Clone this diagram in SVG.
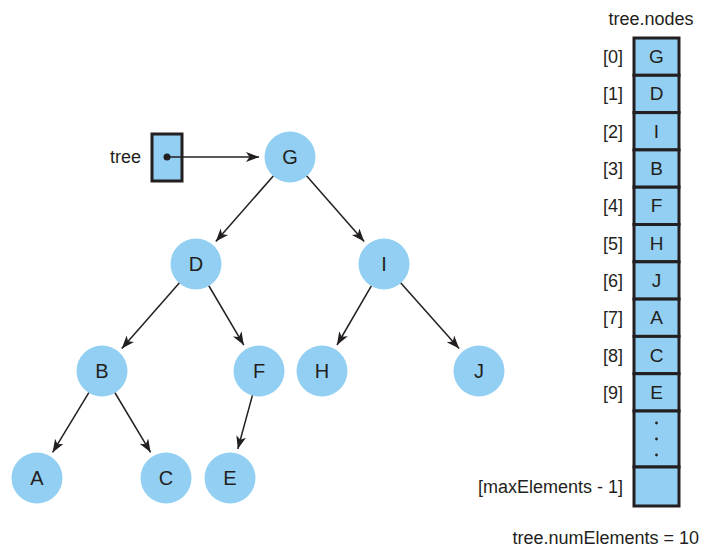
<svg xmlns="http://www.w3.org/2000/svg" width="702" height="549" viewBox="0 0 702 549">
<style>
text{font-family:"Liberation Sans",Arial,sans-serif;font-size:18px;fill:#231F20}
.node circle{fill:#92CFF2;stroke:none}
.node text{text-anchor:middle;font-size:20px}
.edge{stroke:#231F20;stroke-width:1.5;fill:none;marker-end:url(#ah)}
.cell{fill:#92CFF2;stroke:#231F20;stroke-width:3}
.idx{text-anchor:end}
.val{text-anchor:middle}
.cv{text-anchor:middle;font-size:19px}
</style>
<defs>
<marker id="ah" markerUnits="userSpaceOnUse" markerWidth="14" markerHeight="12" refX="13" refY="5" orient="auto">
<path d="M0,0 L13,5 L0,10 L3.5,5 z" fill="#231F20"/>
</marker>
</defs>
<rect width="702" height="549" fill="#fff"/>

<g id="tree-pointer">
<text x="141" y="163" class="idx">tree</text>
<rect x="152" y="134" width="30" height="47" class="cell"/>
<circle cx="167" cy="157" r="3.5" fill="#231F20"/>
</g>

<g id="connectors">
<line class="edge" x1="167" y1="157" x2="259" y2="157"/>
<line class="edge" x1="273.5" y1="175.8" x2="215.8" y2="241.5"/>
<line class="edge" x1="306.5" y1="175.8" x2="364.2" y2="241.5"/>
<line class="edge" x1="179.5" y1="282.8" x2="121.8" y2="348.5"/>
<line class="edge" x1="208.7" y1="285.5" x2="243.8" y2="345.1"/>
<line class="edge" x1="371.5" y1="285.6" x2="337" y2="345"/>
<line class="edge" x1="400.6" y1="282.7" x2="459.1" y2="348.6"/>
<line class="edge" x1="89" y1="392.4" x2="52.6" y2="452.4"/>
<line class="edge" x1="114.8" y1="392.5" x2="150.6" y2="452.3"/>
<line class="edge" x1="252.5" y1="395.1" x2="237.8" y2="449"/>
</g>

<g id="node-G" class="node"><circle cx="290" cy="157" r="25.5"/><text x="290" y="164">G</text></g>
<g id="node-D" class="node"><circle cx="196" cy="264" r="25.5"/><text x="196" y="271">D</text></g>
<g id="node-I" class="node"><circle cx="384" cy="264" r="25.5"/><text x="384" y="271">I</text></g>
<g id="node-B" class="node"><circle cx="102" cy="371" r="25.5"/><text x="102" y="378">B</text></g>
<g id="node-F" class="node"><circle cx="259" cy="371" r="25.5"/><text x="259" y="378">F</text></g>
<g id="node-H" class="node"><circle cx="322" cy="371" r="25.5"/><text x="322" y="378">H</text></g>
<g id="node-J" class="node"><circle cx="479" cy="371" r="25.5"/><text x="479" y="378">J</text></g>
<g id="node-A" class="node"><circle cx="37" cy="478" r="25.5"/><text x="37" y="485">A</text></g>
<g id="node-C" class="node"><circle cx="166" cy="478" r="25.5"/><text x="166" y="485">C</text></g>
<g id="node-E" class="node"><circle cx="230" cy="478" r="25.5"/><text x="230" y="485">E</text></g>

<g id="array">
<text x="651" y="25" class="val">tree.nodes</text>
<rect x="634" y="38" width="45" height="37.3" class="cell"/>
<rect x="634" y="75.3" width="45" height="37.3" class="cell"/>
<rect x="634" y="112.6" width="45" height="37.3" class="cell"/>
<rect x="634" y="149.9" width="45" height="37.3" class="cell"/>
<rect x="634" y="187.2" width="45" height="37.3" class="cell"/>
<rect x="634" y="224.5" width="45" height="37.3" class="cell"/>
<rect x="634" y="261.8" width="45" height="37.3" class="cell"/>
<rect x="634" y="299.1" width="45" height="37.3" class="cell"/>
<rect x="634" y="336.4" width="45" height="37.3" class="cell"/>
<rect x="634" y="373.7" width="45" height="37.3" class="cell"/>
<rect x="634" y="411" width="45" height="56" class="cell"/>
<rect x="634" y="467" width="45" height="39" class="cell"/>
<text x="623" y="63" class="idx">[0]</text><text x="656.5" y="63" class="cv">G</text>
<text x="623" y="100" class="idx">[1]</text><text x="656.5" y="100" class="cv">D</text>
<text x="623" y="138" class="idx">[2]</text><text x="656.5" y="138" class="cv">I</text>
<text x="623" y="175" class="idx">[3]</text><text x="656.5" y="175" class="cv">B</text>
<text x="623" y="212" class="idx">[4]</text><text x="656.5" y="212" class="cv">F</text>
<text x="623" y="250" class="idx">[5]</text><text x="656.5" y="250" class="cv">H</text>
<text x="623" y="287" class="idx">[6]</text><text x="656.5" y="287" class="cv">J</text>
<text x="623" y="324" class="idx">[7]</text><text x="656.5" y="324" class="cv">A</text>
<text x="623" y="362" class="idx">[8]</text><text x="656.5" y="362" class="cv">C</text>
<text x="623" y="399" class="idx">[9]</text><text x="656.5" y="399" class="cv">E</text>
<circle cx="656.5" cy="423" r="1.4" fill="#231F20"/>
<circle cx="656.5" cy="439" r="1.4" fill="#231F20"/>
<circle cx="656.5" cy="455" r="1.4" fill="#231F20"/>
<text x="623" y="493" class="idx">[maxElements - 1]</text>
</g>

<text x="699" y="544" text-anchor="end">tree.numElements = 10</text>
</svg>
